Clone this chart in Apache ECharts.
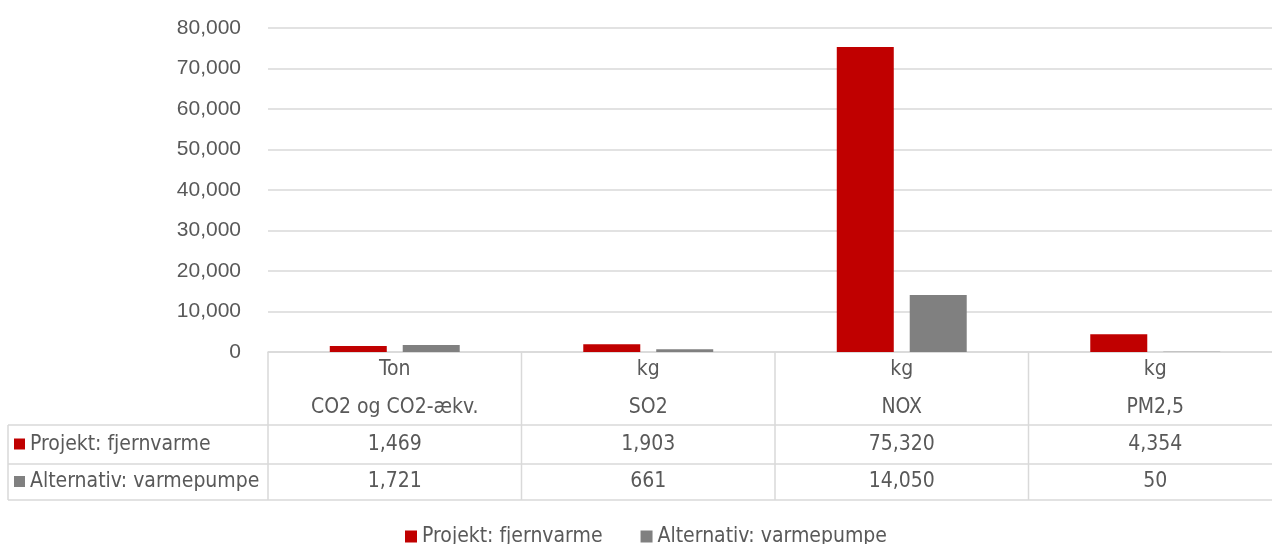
<!DOCTYPE html>
<html>
<head>
<meta charset="utf-8">
<style>
  html, body { margin: 0; padding: 0; background: #ffffff; overflow: hidden; }
  #chart { width: 1282px; height: 544px; }
</style>
<script src="https://cdn.jsdelivr.net/npm/echarts@6/dist/echarts.min.js"></script>
</head>
<body>
<div id="chart"></div>
<script>
// Emission categories with their units
const categories = ['CO2 og CO2-ækv.', 'SO2', 'NOX', 'PM2,5'];
const units = ['Ton', 'kg', 'kg', 'kg'];

// Series
const seriesNames = ['Projekt: fjernvarme', 'Alternativ: varmepumpe'];
const projektValues = [1469, 1903, 75320, 4354];
const alternativValues = [1721, 661, 14050, 50];
const seriesColors = ['#C00000', '#808080'];

const yTicks = { min: 0, max: 80000, interval: 10000 };

const TEXT = '#595959';
const LINE = '#D9D9D9';
const narrow = "'Liberation Sans Narrow', 'DejaVu Sans Condensed', sans-serif";
const fmt = v => v.toLocaleString('en-US');

const chart = echarts.init(document.getElementById('chart'));

const option = {
  animation: false,
  backgroundColor: '#ffffff',
  grid: { left: 268, top: 28, right: 0, height: 324, containLabel: false },
  legend: {
    data: seriesNames,
    bottom: -8,
    left: 400,
    icon: 'rect',
    itemWidth: 12,
    itemHeight: 12,
    itemGap: 38,
    textStyle: { color: TEXT, fontSize: 21, fontFamily: narrow }
  },
  xAxis: {
    type: 'category',
    data: categories,
    axisLine: { show: true, lineStyle: { color: LINE, width: 1.5 } },
    axisTick: { show: false },
    axisLabel: { show: false },
    splitLine: { show: false }
  },
  yAxis: {
    type: 'value',
    min: yTicks.min,
    max: yTicks.max,
    interval: yTicks.interval,
    axisLine: { show: false },
    axisTick: { show: false },
    axisLabel: {
      color: TEXT,
      fontSize: 21,
      fontFamily: "'Liberation Sans', Arial, sans-serif",
      margin: 27,
      formatter: v => fmt(v)
    },
    splitLine: { lineStyle: { color: LINE, width: 1.5 } }
  },
  series: [
    {
      name: seriesNames[0],
      type: 'bar',
      data: projektValues,
      itemStyle: { color: seriesColors[0] },
      barWidth: 57,
      barGap: '28%'
    },
    {
      name: seriesNames[1],
      type: 'bar',
      data: alternativValues,
      itemStyle: { color: seriesColors[1] },
      barWidth: 57,
      barGap: '28%'
    }
  ]
};

chart.setOption(option);

// Data table drawn beneath the category axis
function buildTable() {
  const y0 = chart.convertToPixel({ yAxisIndex: 0 }, 0);
  const centers = categories.map((c, i) => chart.convertToPixel({ xAxisIndex: 0 }, i));
  const band = centers.length > 1 ? centers[1] - centers[0] : 250;
  const gridLeft = centers[0] - band / 2;
  const gridRight = centers[centers.length - 1] + band / 2;
  const tableLeft = 8;

  const rowUnit = y0 + 18;
  const rowCat = y0 + 56;
  const line1 = y0 + 73;
  const line2 = y0 + 112;
  const line3 = y0 + 148;
  const rowVals = [(line1 + line2) / 2, (line2 + line3) / 2];

  const els = [];
  const lineStyle = { stroke: LINE, lineWidth: 1.5 };
  const hline = (x1, x2, y) => els.push({ type: 'line', shape: { x1, y1: y, x2, y2: y }, style: lineStyle, silent: true });
  const vline = (x, y1, y2) => els.push({ type: 'line', shape: { x1: x, y1, x2: x, y2 }, style: lineStyle, silent: true });

  hline(tableLeft, gridRight, line1);
  hline(tableLeft, gridRight, line2);
  hline(tableLeft, gridRight, line3);
  vline(tableLeft, line1, line3);
  vline(gridLeft, y0, line3);
  for (let i = 1; i < categories.length; i++) vline(gridLeft + band * i, y0, line3);

  const txt = (x, y, s, align) => els.push({
    type: 'text', x, y, silent: true,
    style: { text: s, fill: TEXT, font: '21px ' + narrow, textAlign: align || 'center', textVerticalAlign: 'middle' }
  });

  categories.forEach((c, i) => {
    txt(centers[i], rowUnit, units[i]);
    txt(centers[i], rowCat, c);
    txt(centers[i], rowVals[0], fmt(projektValues[i]));
    txt(centers[i], rowVals[1], fmt(alternativValues[i]));
  });

  seriesNames.forEach((name, k) => {
    const cy = rowVals[k];
    els.push({ type: 'rect', silent: true, shape: { x: 14, y: cy - 6, width: 11, height: 11 }, style: { fill: seriesColors[k] } });
    txt(30, cy, name, 'left');
  });

  chart.setOption({ graphic: { elements: els } });
}

buildTable();
</script>
</body>
</html>
